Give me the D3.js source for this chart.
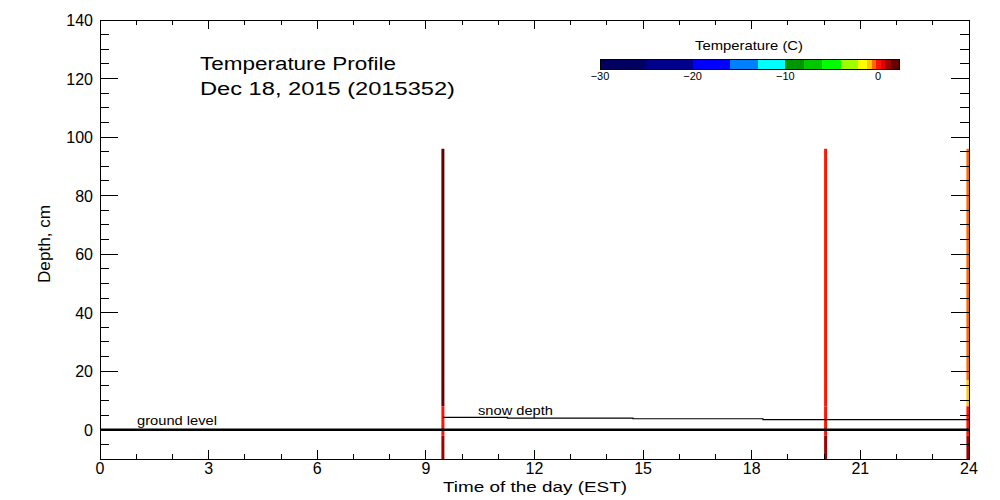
<!DOCTYPE html>
<html><head><meta charset="utf-8">
<script src="https://cdn.jsdelivr.net/npm/d3@7"></script>
<style>body{margin:0;background:#fff}svg{display:block}text{font-family:"Liberation Sans",Arial,sans-serif;fill:#000}</style>
</head><body><svg id="c" width="1000" height="500"></svg>
<script>
// ---- data ----
const xTickValues = [0,3,6,9,12,15,18,21,24];
const yTickValues = [0,20,40,60,80,100,120,140];
const profileTimes = [9.47, 20.04, 23.97];
const layerTop = [96, 17, 8, -2];
const layerBottom = [17, 8, -2, -10];
const profileTemps = [
  [1.8, 1.8, 0.0, 1.0],
  [0.0, 0.0, 0.0, 1.0],
  [-0.5, -1.0, 0.0, 1.0]
];
const snowTimes = [9.47, 11.25, 14.72, 18.31, 24];
const snowDepths = [4.2, 4.0, 3.75, 3.45, 3.45];
const groundDepth = 0;
const colorLevels = [-30,-25,-20,-16,-13,-10,-8,-6,-4,-2.2,-1.2,-0.7,-0.2,0.3,0.8,1.4,2.3];
const colorList = ["#000060","#00008c","#0000ff","#0080ff","#00ffff","#009600","#00c800","#00ff00",
  "#a0ff00","#ffff00","#ffc800","#ff6a00","#ff1400","#e00000","#a00000","#640000"];
const cbTicks = [-30,-20,-10,0];

// ---- scales ----
const svg = d3.select("#c");
const x = d3.scaleLinear().domain([0,24]).range([100,969]);
const y = d3.scaleLinear().domain([-10,140]).range([459,20]);
const color = d3.scaleThreshold().domain(colorLevels.slice(1,-1)).range(colorList);

// ---- profile bars ----
profileTimes.forEach((t,i)=>{
  svg.append("g").selectAll("rect").data(layerTop.map((d,j)=>({top:d,bot:layerBottom[j],v:profileTemps[i][j]})))
    .join("rect")
    .attr("x", x(t)-1.5).attr("width",3)
    .attr("y", d=>y(d.top)).attr("height", d=>y(d.bot)-y(d.top))
    .attr("fill", d=>color(d.v));
});

// ---- ground and snow lines ----
svg.append("line").attr("x1",x(0)).attr("x2",x(24)).attr("y1",y(groundDepth)).attr("y2",y(groundDepth))
  .attr("stroke","#000").attr("stroke-width",2.5);
svg.append("path").datum(snowTimes.map((t,i)=>[t,snowDepths[i]]))
  .attr("d", d3.line().x(d=>x(d[0])).y(d=>y(d[1])).curve(d3.curveStepAfter))
  .attr("fill","none").attr("stroke","#000").attr("stroke-width",1.2);

svg.append("text").attr("x",137).attr("y",425).attr("font-size",13).attr("textLength",80).attr("lengthAdjust","spacingAndGlyphs").text("ground level");
svg.append("text").attr("x",478).attr("y",415).attr("font-size",13).attr("textLength",75).attr("lengthAdjust","spacingAndGlyphs").text("snow depth");

// ---- axes ----
const frame = svg.append("g").attr("stroke","#000").attr("stroke-width",1).attr("shape-rendering","crispEdges");
frame.append("rect").attr("x",100).attr("y",20).attr("width",869).attr("height",439).attr("fill","none");
const yMinor = d3.range(-5,141,5);
yMinor.forEach(v=>{
  const L = v%20===0 ? 18 : 9;
  frame.append("line").attr("x1",100).attr("x2",100+L).attr("y1",y(v)).attr("y2",y(v));
  frame.append("line").attr("x1",969).attr("x2",969-L).attr("y1",y(v)).attr("y2",y(v));
});
d3.range(0,25,1).forEach(v=>{
  const L = v%3===0 ? 9 : 5;
  frame.append("line").attr("x1",x(v)).attr("x2",x(v)).attr("y1",459).attr("y2",459-L);
  frame.append("line").attr("x1",x(v)).attr("x2",x(v)).attr("y1",20).attr("y2",20+L);
});
svg.append("g").selectAll("text").data(yTickValues).join("text")
  .attr("x",93).attr("y",d=>y(d)+6).attr("text-anchor","end").attr("font-size",16).text(d=>d);
svg.append("g").selectAll("text").data(xTickValues).join("text")
  .attr("x",d=>x(d)).attr("y",474).attr("text-anchor","middle").attr("font-size",16).text(d=>d);
svg.append("text").attr("x",535).attr("y",492).attr("text-anchor","middle").attr("font-size",15)
  .attr("textLength",184).attr("lengthAdjust","spacingAndGlyphs").text("Time of the day (EST)");
svg.append("text").attr("transform","translate(50,244) rotate(-90)").attr("text-anchor","middle").attr("font-size",16)
  .attr("textLength",78).attr("lengthAdjust","spacingAndGlyphs").text("Depth, cm");

// ---- titles ----
svg.append("text").attr("x",200).attr("y",70).attr("font-size",18).attr("textLength",196).attr("lengthAdjust","spacingAndGlyphs").text("Temperature Profile");
svg.append("text").attr("x",200).attr("y",95).attr("font-size",18).attr("textLength",255).attr("lengthAdjust","spacingAndGlyphs").text("Dec 18, 2015 (2015352)");

// ---- colorbar ----
const cx = d3.scaleLinear().domain([-30,0]).range([600,878]);
const segs = colorList.map((c,i)=>({a:colorLevels[i],b:colorLevels[i+1],c}));
svg.append("g").selectAll("rect").data(segs).join("rect")
  .attr("x",d=>cx(d.a)).attr("width",d=>cx(d.b)-cx(d.a)).attr("y",59).attr("height",10)
  .attr("fill",d=>d.c).attr("shape-rendering","crispEdges");
svg.append("rect").attr("x",cx(-30)).attr("y",59).attr("width",cx(2.3)-cx(-30)).attr("height",10)
  .attr("fill","none").attr("stroke","#000").attr("shape-rendering","crispEdges");
svg.append("g").selectAll("text").data(cbTicks).join("text")
  .attr("x",d=>cx(d)).attr("y",80).attr("text-anchor","middle").attr("font-size",11).text(d=>d<0?"\u2212"+Math.abs(d):d);
svg.append("text").attr("x",749).attr("y",50).attr("text-anchor","middle").attr("font-size",13)
  .attr("textLength",108).attr("lengthAdjust","spacingAndGlyphs").text("Temperature (C)");
</script></body></html>
